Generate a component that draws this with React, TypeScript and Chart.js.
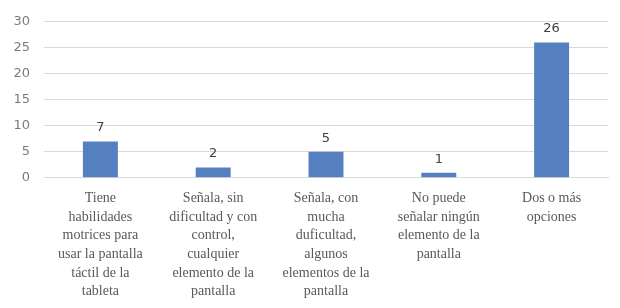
import React, { useEffect, useRef } from "react";
import { Chart, registerables } from "chart.js";

Chart.register(...registerables);

const categories: string[][] = [
  ["Tiene", "habilidades", "motrices para", "usar la pantalla", "táctil de la", "tableta"],
  ["Señala, sin", "dificultad y con", "control,", "cualquier", "elemento de la", "pantalla"],
  ["Señala, con", "mucha", "duficultad,", "algunos", "elementos de la", "pantalla"],
  ["No puede", "señalar ningún", "elemento de la", "pantalla"],
  ["Dos o más", "opciones"],
];
const values: number[] = [7, 2, 5, 1, 26];
const yTicks: number[] = [0, 5, 10, 15, 20, 25, 30];

const valueLabels = {
  id: "valueLabels",
  afterDatasetsDraw(chart: any) {
    const ctx = chart.ctx;
    const meta = chart.getDatasetMeta(0);
    ctx.save();
    ctx.fillStyle = "#404040";
    ctx.font = "13px 'DejaVu Sans', sans-serif";
    ctx.textAlign = "center";
    ctx.textBaseline = "bottom";
    meta.data.forEach((bar: any, i: number) => {
      ctx.fillText(String(values[i]), bar.x, bar.y - 7);
    });
    ctx.restore();
  },
};

export default function App() {
  const ref = useRef<HTMLCanvasElement>(null);
  useEffect(() => {
    document.body.style.margin = "0";
    const chart = new Chart(ref.current!, {
      type: "bar",
      data: {
        labels: categories,
        datasets: [
          {
            data: values,
            backgroundColor: "#5580C0",
            barPercentage: 0.31,
            categoryPercentage: 1,
          },
        ],
      },
      options: {
        animation: false,
        responsive: false,
        layout: { padding: { top: 11, right: 12, left: 0, bottom: -4 } },
        plugins: { legend: { display: false }, tooltip: { enabled: false } },
        scales: {
          x: {
            grid: { display: false, drawTicks: false },
            border: { color: "#d9d9d9" },
            ticks: {
              color: "#595959",
              font: { family: "'Liberation Serif', serif", size: 14, lineHeight: 1.335 },
              maxRotation: 0,
              autoSkip: false,
              padding: 11,
            },
          },
          y: {
            min: 0,
            max: 30,
            afterBuildTicks: (s: any) => {
              s.ticks = yTicks.map((v) => ({ value: v }));
            },
            afterFit: (s: any) => {
              s.width = 44;
            },
            grid: { color: "#d9d9d9", drawTicks: false },
            border: { display: false },
            ticks: {
              color: "#7a7a7a",
              font: { family: "'DejaVu Sans', sans-serif", size: 13 },
              padding: 14,
            },
          },
        },
      },
      plugins: [valueLabels],
    });
    return () => chart.destroy();
  }, []);
  return (
    <div style={{ width: 620, height: 308 }}>
      <canvas ref={ref} width={620} height={308} />
    </div>
  );
}
